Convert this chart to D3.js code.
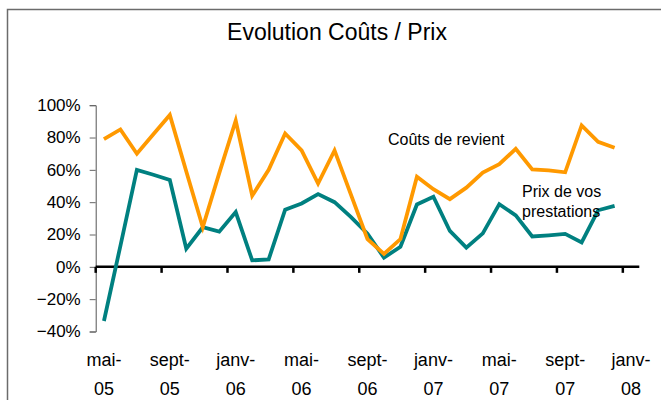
<!DOCTYPE html>
<html>
<head>
<meta charset="utf-8">
<script src="https://cdn.jsdelivr.net/npm/d3@7"></script>
<style>
  html, body { margin: 0; padding: 0; background: #fff; }
  svg { display: block; font-family: "Liberation Sans", Arial, sans-serif; }
</style>
</head>
<body>
<svg id="chart" width="661" height="400"></svg>
<script>
const categories = [
  "mai-05","juin-05","juil-05","août-05","sept-05","oct-05","nov-05","déc-05",
  "janv-06","févr-06","mars-06","avr-06","mai-06","juin-06","juil-06","août-06",
  "sept-06","oct-06","nov-06","déc-06","janv-07","févr-07","mars-07","avr-07",
  "mai-07","juin-07","juil-07","août-07","sept-07","oct-07","nov-07","déc-07",
  "janv-08"
];
const coutsRevient = [
  0.79, 0.85, 0.70, 0.82, 0.94, 0.59, 0.245, 0.58,
  0.905, 0.44, 0.60, 0.825, 0.72, 0.515, 0.72, 0.445,
  0.172, 0.08, 0.172, 0.558, 0.48, 0.419, 0.49, 0.583,
  0.635, 0.73, 0.603, 0.597, 0.585, 0.875, 0.773, 0.737,
  null
];
const prixPrestations = [
  -0.335, 0.13, 0.60, 0.57, 0.537, 0.113, 0.245, 0.218,
  0.339, 0.04, 0.046, 0.354, 0.392, 0.45, 0.40, 0.308,
  0.205, 0.057, 0.124, 0.386, 0.434, 0.222, 0.119, 0.207,
  0.388, 0.318, 0.188, 0.195, 0.204, 0.151, 0.35, 0.377,
  null
];
const yTicks = [-0.4, -0.2, 0, 0.2, 0.4, 0.6, 0.8, 1.0];
const xTickEvery = 4;

const svg = d3.select("#chart");

// outer frame
svg.append("rect")
  .attr("x", 7.5).attr("y", 9.5)
  .attr("width", 700).attr("height", 500)
  .attr("fill", "none").attr("stroke", "#6b6b6b").attr("stroke-width", 1.5);

// title
svg.append("text")
  .attr("x", 337).attr("y", 40)
  .attr("text-anchor", "middle")
  .attr("font-size", 23)
  .attr("fill", "#000")
  .text("Evolution Coûts / Prix");

const x = d3.scaleBand().domain(categories).range([95.7, 639.3]).padding(0);
const y = d3.scaleLinear().domain([-0.4, 1.0]).range([331.5, 105.2]);
const cx = c => x(c) + x.bandwidth() / 2;

// y axis
const yAxis = d3.axisLeft(y)
  .tickValues(yTicks)
  .tickFormat(d3.format(".0%"))
  .tickSize(6)
  .tickPadding(9);
const gy = svg.append("g")
  .attr("transform", `translate(${x.range()[0]},0)`)
  .call(yAxis);
gy.select(".domain").attr("stroke", "#555").attr("stroke-width", 1);
gy.selectAll(".tick line").attr("stroke", "#666");
gy.selectAll(".tick text")
  .attr("font-size", 17)
  .attr("fill", "#000")
  .attr("font-family", "Liberation Sans, Arial, sans-serif");

// x axis (at zero)
const y0 = y(0);
const gx = svg.append("g");
gx.append("line")
  .attr("x1", x.range()[0]).attr("x2", x.range()[1])
  .attr("y1", y0).attr("y2", y0)
  .attr("stroke", "#000").attr("stroke-width", 2.5);
const tickCats = categories.filter((c, i) => i % xTickEvery === 0);
gx.selectAll("line.xt").data(tickCats).join("line")
  .attr("class", "xt")
  .attr("x1", d => x(d)).attr("x2", d => x(d))
  .attr("y1", y0).attr("y2", y0 + 6)
  .attr("stroke", "#000").attr("stroke-width", 2.5);

// x labels (two lines)
const xl = svg.append("g").selectAll("text").data(tickCats).join("text")
  .attr("x", d => cx(d))
  .attr("y", 366)
  .attr("text-anchor", "middle")
  .attr("font-size", 18)
  .attr("fill", "#000");
xl.append("tspan").attr("x", d => cx(d)).attr("y", 366)
  .text(d => d.split("-")[0] + "-");
xl.append("tspan").attr("x", d => cx(d)).attr("y", 395)
  .text(d => d.split("-")[1]);

// lines
const line = d3.line()
  .defined(d => d.v !== null)
  .x(d => cx(d.c))
  .y(d => y(d.v));

const coutsData = categories.map((c, i) => ({ c, v: coutsRevient[i] }));
const prixData = categories.map((c, i) => ({ c, v: prixPrestations[i] }));

svg.append("path").datum(prixData)
  .attr("d", line)
  .attr("fill", "none").attr("stroke", "#008080")
  .attr("stroke-width", 3.8).attr("stroke-linejoin", "miter");

svg.append("path").datum(coutsData)
  .attr("d", line)
  .attr("fill", "none").attr("stroke", "#FF9900")
  .attr("stroke-width", 3.8).attr("stroke-linejoin", "miter");

// annotations
svg.append("text").attr("x", 388).attr("y", 145)
  .attr("font-size", 16).attr("fill", "#000")
  .text("Coûts de revient");
const ann = svg.append("text").attr("font-size", 16).attr("fill", "#000");
ann.append("tspan").attr("x", 522).attr("y", 197).text("Prix de vos");
ann.append("tspan").attr("x", 522).attr("y", 217).text("prestations");
</script>
</body>
</html>
